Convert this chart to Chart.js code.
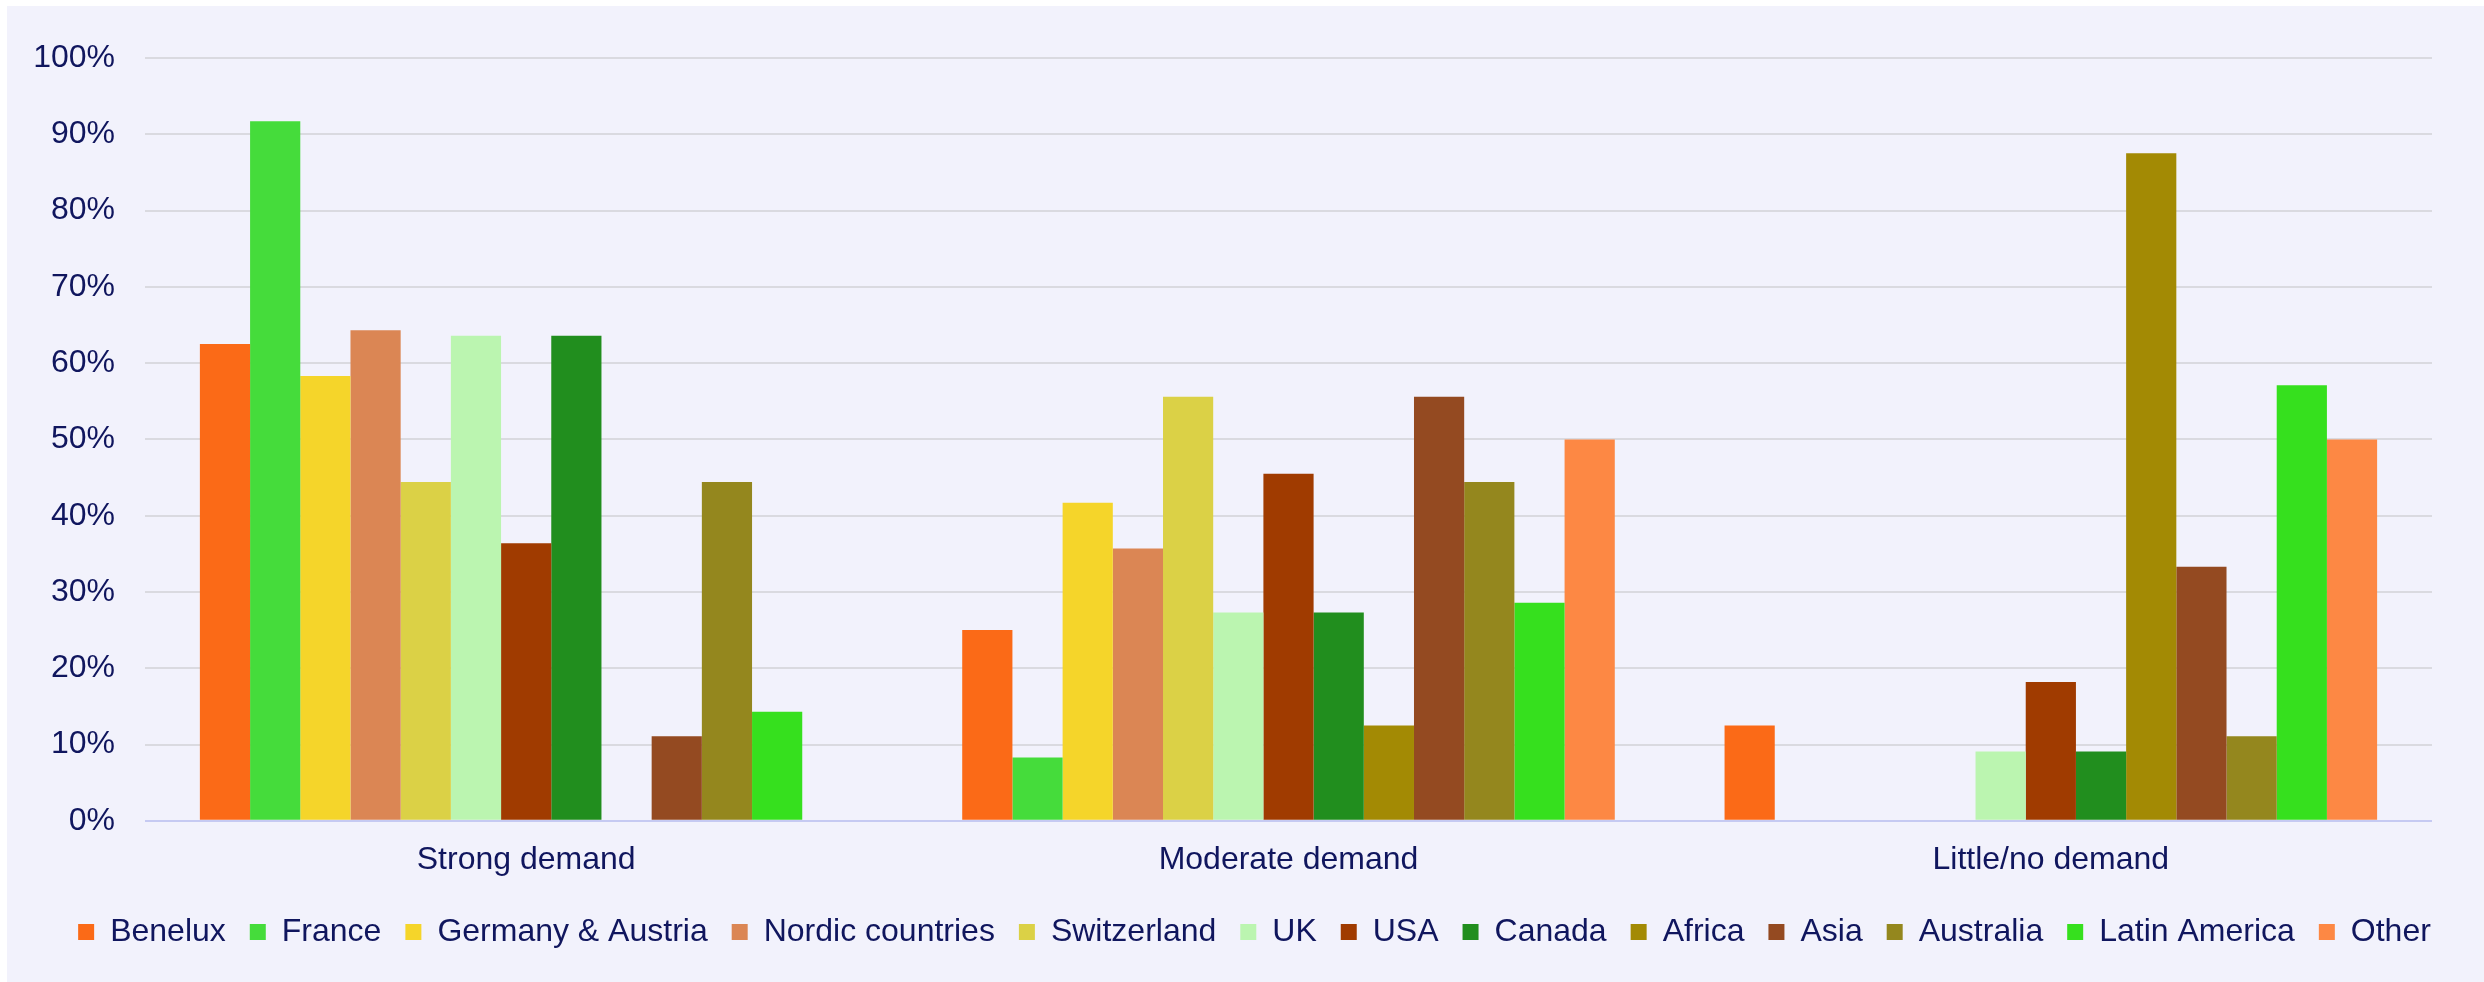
<!DOCTYPE html>
<html>
<head>
<meta charset="utf-8">
<script src="https://cdn.jsdelivr.net/npm/chart.js@4"></script>
<style>
  html, body { margin: 0; padding: 0; background: #ffffff; }
  #demandChart { position: absolute; left: 7px; top: 6px; background: #F2F2FC; }
</style>
</head>
<body>
<canvas id="demandChart" width="2477" height="976"></canvas>
<script>
// demand level per region, in percent of respondents
const categories = ['Strong demand', 'Moderate demand', 'Little/no demand'];
const regions = ['Benelux', 'France', 'Germany & Austria', 'Nordic countries', 'Switzerland', 'UK',
    'USA', 'Canada', 'Africa', 'Asia', 'Australia', 'Latin America', 'Other'];

const strongDemand   = [62.5, 91.7, 58.3, 64.3, 44.4, 63.6, 36.4, 63.6, 0, 11.1, 44.4, 14.3, 0];
const moderateDemand = [25, 8.3, 41.7, 35.7, 55.6, 27.3, 45.5, 27.3, 12.5, 55.6, 44.4, 28.6, 50];
const littleDemand   = [12.5, 0, 0, 0, 0, 9.1, 18.2, 9.1, 87.5, 33.3, 11.1, 57.1, 50];

const regionColors = ['#FB6A17', '#45DC3B', '#F5D52A', '#DB8654', '#DBD146', '#BBF5B0',
    '#A03B00', '#218E1E', '#A38A04', '#944A21', '#94871E', '#36E01E', '#FD8844'];

const navy = '#10165E';
const labelFont = { family: '"Liberation Sans", Arial, sans-serif', size: 32 };

let datasets = regions.map((name, i) => {
    return {
        label: name,
        data: [strongDemand[i], moderateDemand[i], littleDemand[i]],
        backgroundColor: regionColors[i],
        borderWidth: 0,
        barPercentage: 1,
        categoryPercentage: 0.856
    }
});

// nudge the legend row to the right after layout
const legendShift = {
    id: 'legendShift',
    afterLayout: (chart) => {
        chart.legend.left += 35;
        chart.legend.right += 35;
    }
};

let demandChart = new Chart(document.getElementById('demandChart'), {
    type: 'bar',
    data: {
        labels: categories,
        datasets: datasets
    },
    plugins: [legendShift],
    options: {
        responsive: false,
        animation: false,
        layout: {
            padding: { left: 0, right: 52, top: 52, bottom: 24 }
        },
        plugins: {
            tooltip: { enabled: false },
            legend: {
                position: 'bottom',
                labels: {
                    color: navy,
                    font: labelFont,
                    boxWidth: 16,
                    boxHeight: 16,
                    padding: 24
                }
            }
        },
        scales: {
            x: {
                grid: { display: false },
                border: { display: false },
                ticks: {
                    color: navy,
                    font: { family: labelFont.family, size: 32, lineHeight: 0.85 },
                    padding: 18
                }
            },
            y: {
                min: 0,
                max: 100,
                afterFit: (scale) => { scale.width = 138; },
                border: { display: false },
                grid: {
                    drawTicks: false,
                    lineWidth: 2,
                    color: (ctx) => ctx.tick && ctx.tick.value === 0 ? '#C6CAF2' : '#DADAE0'
                },
                ticks: {
                    stepSize: 10,
                    padding: 30,
                    color: navy,
                    font: labelFont,
                    callback: (v) => v + '%'
                }
            }
        }
    }
});
</script>
</body>
</html>
